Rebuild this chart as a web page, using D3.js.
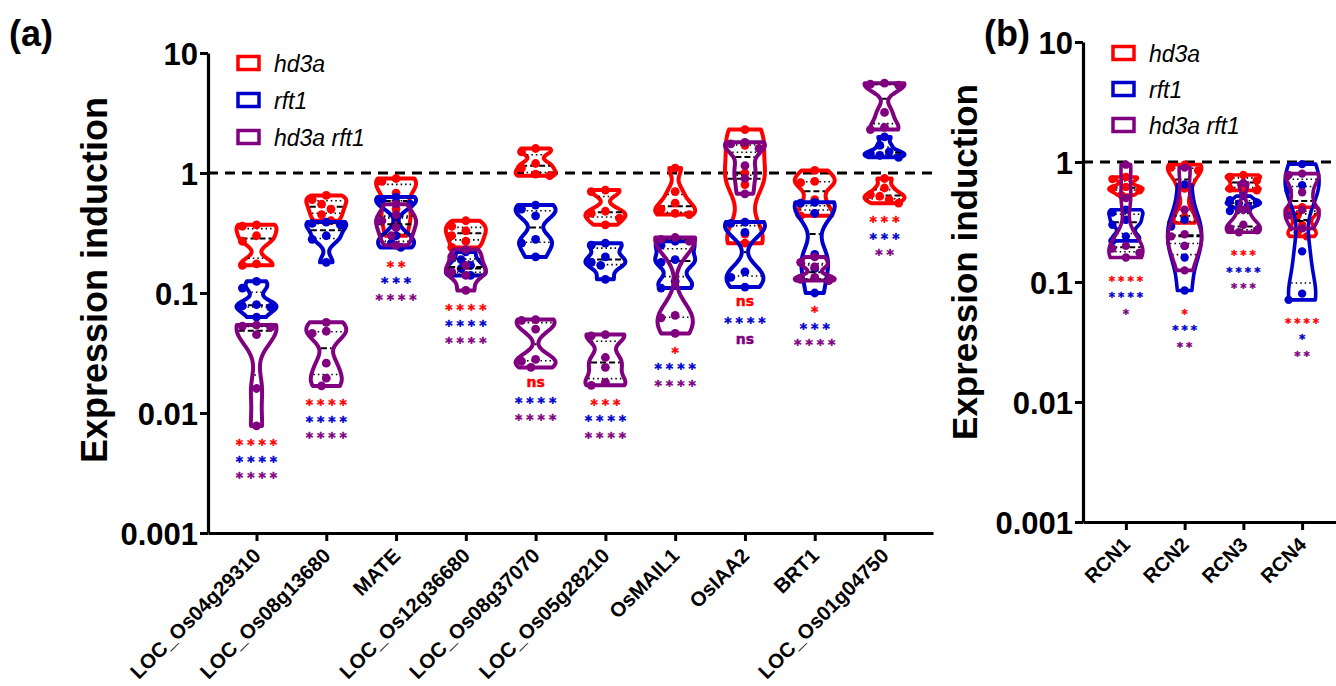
<!DOCTYPE html>
<html><head><meta charset="utf-8">
<script src="https://cdn.jsdelivr.net/npm/d3@7"></script>
<style>
body{margin:0;background:#fff;}
svg{font-family:"Liberation Sans", Arial, sans-serif;}
</style></head><body>
<svg id="c" width="1336" height="686"></svg>
<script>
// ---------- data ----------
const genesA = ["LOC_Os04g29310","LOC_Os08g13680","MATE","LOC_Os12g36680","LOC_Os08g37070","LOC_Os05g28210","OsMAIL1","OsIAA2","BRT1","LOC_Os01g04750"];
const genesB = ["RCN1","RCN2","RCN3","RCN4"];
const groupNames = ["hd3a","rft1","hd3a rft1"];
const groupColors = ["#ff0000","#0000cc","#800080"];
const yTicks = [0.001,0.01,0.1,1,10];
const yTickLabels = ["0.001","0.01","0.1","1","10"];

const hd3aA = [
  [0.37,0.36,0.30,0.27,0.175,0.17],
  [0.65,0.6,0.55,0.5,0.45,0.4],
  [0.9,0.85,0.68,0.5,0.4,0.3],
  [0.4,0.36,0.33,0.3,0.27,0.24],
  [1.6,1.5,1.2,1.1,0.98,0.95],
  [0.72,0.7,0.48,0.46,0.42,0.37],
  [1.1,0.7,0.56,0.5,0.46,0.45],
  [2.3,1.7,1.0,0.8,0.31,0.26],
  [1.05,0.85,0.83,0.6,0.46,0.44],
  [0.9,0.75,0.66,0.64,0.6,0.56]
];
const rft1A = [
  [0.125,0.11,0.08,0.078,0.076,0.063],
  [0.39,0.38,0.37,0.3,0.28,0.18],
  [0.63,0.6,0.55,0.3,0.26,0.24],
  [0.22,0.19,0.17,0.16,0.145,0.14],
  [0.54,0.5,0.44,0.28,0.26,0.2],
  [0.26,0.25,0.2,0.18,0.17,0.13],
  [0.27,0.25,0.19,0.18,0.125,0.11],
  [0.39,0.38,0.32,0.15,0.135,0.112],
  [0.57,0.56,0.46,0.21,0.16,0.1],
  [2.0,1.7,1.5,1.45,1.4,1.35]
];
const dblA = [
  [0.054,0.053,0.052,0.045,0.016,0.0078],
  [0.057,0.048,0.046,0.026,0.0195,0.0168],
  [0.55,0.45,0.4,0.35,0.3,0.25],
  [0.23,0.2,0.17,0.15,0.14,0.105],
  [0.06,0.059,0.05,0.028,0.027,0.024],
  [0.045,0.044,0.029,0.024,0.018,0.017],
  [0.29,0.28,0.27,0.065,0.062,0.046],
  [1.8,1.75,1.6,1.15,0.9,0.67],
  [0.2,0.18,0.165,0.135,0.13,0.127],
  [5.6,5.5,5.4,3.2,2.4,2.3]
];
const hd3aB = [
  [0.75,0.72,0.62,0.6,0.58,0.53],
  [0.95,0.9,0.85,0.6,0.35,0.31],
  [0.78,0.75,0.7,0.65,0.6,0.58],
  [0.42,0.4,0.36,0.3,0.26,0.24]
];
const rft1B = [
  [0.4,0.38,0.33,0.3,0.24,0.22],
  [0.65,0.33,0.29,0.2,0.16,0.085],
  [0.52,0.48,0.46,0.45,0.43,0.39],
  [0.96,0.64,0.58,0.18,0.08,0.071]
];
const dblB = [
  [0.95,0.5,0.2,0.19,0.175,0.16],
  [0.9,0.4,0.25,0.24,0.2,0.125],
  [0.67,0.4,0.3,0.28,0.27,0.26],
  [0.8,0.78,0.56,0.4,0.36,0.28]
];
const sigA = [
  ["****","****","****"],
  ["****","****","****"],
  ["**","***","****"],
  ["****","****","****"],
  ["ns","****","****"],
  ["***","****","****"],
  ["*","****","****"],
  ["ns","****","ns"],
  ["*","***","****"],
  ["***","***","**"]
];
const sigB = [
  ["****","****","*"],
  ["*","***","**"],
  ["***","****","***"],
  ["****","*","**"]
];

// ---------- drawing ----------
const svg = d3.select("#c");

function kdeShape(vals, halfW){
  const t = vals.map(v=>Math.log10(v)).sort((a,b)=>a-b);
  const lo = t[0], hi = t[t.length-1];
  const h = Math.max((hi-lo)*0.16, 0.012);
  const N = 60, pts = [];
  for(let j=0;j<=N;j++){
    const u = lo + (hi-lo)*j/N;
    let d = 0;
    t.forEach(ti=>{ const z=(u-ti)/h; d += Math.exp(-0.5*z*z); });
    pts.push({u, d});
  }
  const m = d3.max(pts, p=>p.d);
  pts.forEach(p=>p.w = p.d/m*halfW);
  const widthAt = u => {
    const f = (u-lo)/(hi-lo||1)*N;
    const i = Math.max(0, Math.min(N-1, Math.floor(f)));
    const r = f - i;
    return pts[i].w*(1-r) + pts[i+1].w*r;
  };
  return {pts, t, widthAt};
}

function drawPanel(cfg){
  const g = svg.append("g");
  const y = d3.scaleLog().domain([0.001,10]).range([cfg.yBot, cfg.yTop]);
  const x = d3.scalePoint().domain(cfg.genes).range([cfg.x0, cfg.x1]).padding(cfg.pad);

  const ya = g.append("g").attr("transform",`translate(${cfg.x0},0)`)
    .call(d3.axisLeft(y).tickValues(yTicks).tickFormat((d,i)=>yTickLabels[i]).tickSize(8).tickSizeOuter(0).tickPadding(2));
  ya.select(".domain").attr("stroke","#000").attr("stroke-width",3.2);
  ya.selectAll(".tick line").attr("stroke","#000").attr("stroke-width",3);
  ya.selectAll(".tick text").attr("font-size",31).attr("font-weight","bold").attr("fill","#000")
    .attr("font-family","'Liberation Sans', Arial, sans-serif").attr("dy","0.36em");

  const xa = g.append("g").attr("transform",`translate(0,${cfg.yBot})`)
    .call(d3.axisBottom(x).tickSize(8).tickSizeOuter(0));
  xa.select(".domain").attr("stroke","#000").attr("stroke-width",3.2);
  xa.selectAll(".tick line").attr("stroke","#000").attr("stroke-width",3);
  xa.selectAll(".tick text").attr("font-size",cfg.xFont).attr("font-weight","bold").attr("fill","#000")
    .attr("font-family","'Liberation Sans', Arial, sans-serif")
    .attr("text-anchor","end").attr("dy",null).attr("y",0)
    .attr("transform",`translate(${cfg.xlx},${cfg.xly}) rotate(-45)`);

  g.append("line").attr("x1",cfg.x0).attr("x2",cfg.x1).attr("y1",y(1)).attr("y2",y(1))
    .attr("stroke","#000").attr("stroke-width",3).attr("stroke-dasharray","10,7");

  const area = d3.area().curve(d3.curveBasis);
  cfg.genes.forEach((gene,i)=>{
    const cx = x(gene);
    cfg.data.forEach((ser,k)=>{
      const vals = ser[i];
      const sh = kdeShape(vals, cfg.halfW);
      const col = groupColors[k];
      const vg = g.append("g");
      area.y(p=>y(10**p.u)).x0(p=>cx-p.w).x1(p=>cx+p.w);
      vg.append("path").attr("d",area(sh.pts)).attr("fill","none")
        .attr("stroke",col).attr("stroke-width",cfg.vStroke).attr("stroke-linejoin","round");
      const med = d3.quantile(sh.t,0.5), q1 = d3.quantile(sh.t,0.25), q3 = d3.quantile(sh.t,0.75);
      [[med,"6,3",2],[q1,"1.5,3",1.6],[q3,"1.5,3",1.6]].forEach(([q,da,sw])=>{
        const w = sh.widthAt(q) - cfg.vStroke/2;
        vg.append("line").attr("x1",cx-w).attr("x2",cx+w).attr("y1",y(10**q)).attr("y2",y(10**q))
          .attr("stroke","#000").attr("stroke-width",sw).attr("stroke-dasharray",da);
      });
      const r = cfg.r, placed = [];
      vals.map(v=>y(v)).sort((a,b)=>a-b).forEach(py=>{
        const offs=[0,-1,1,-2,2,-3,3];
        let px = cx;
        for(const o of offs){
          const tx = cx + (o===0?0:Math.sign(o)*(r+0.3) + Math.sign(o)*(Math.abs(o)-1)*(2*r+0.6));
          if(placed.every(p=>Math.hypot(p[0]-tx,p[1]-py) >= 2*r)){ px = tx; break; }
        }
        placed.push([px,py]);
        vg.append("circle").attr("cx",px).attr("cy",py).attr("r",r).attr("fill",col);
      });
    });
    // significance labels
    const minV = d3.min(cfg.data, ser=>d3.min(ser[i]));
    const base = y(minV) + cfg.sigGap;
    cfg.sig[i].forEach((s,k)=>{
      const cy = base + k*cfg.sigStep;
      const ts = g.append("text").attr("text-anchor","middle").attr("font-weight","bold")
        .attr("font-family","'DejaVu Sans', sans-serif").attr("fill",groupColors[k])
        .attr("stroke",groupColors[k]).attr("stroke-linejoin","round").text(s);
      if(s==="ns"){
        const afterStars = k>0 && cfg.sig[i][k-1]!=="ns";
        ts.attr("x",cx).attr("y",cy+(afterStars?0.62:0.3)*cfg.nsFont).attr("font-size",cfg.nsFont)
          .attr("stroke-width",cfg.nsStroke);
      } else {
        ts.attr("x",cx+cfg.starLS/2).attr("y",cy+0.59*cfg.starFont).attr("font-size",cfg.starFont)
          .attr("letter-spacing",cfg.starLS).attr("stroke-width",cfg.starStroke);
      }
    });
  });

  groupNames.forEach((n,k)=>{
    const ly = cfg.legY + k*cfg.legStep;
    g.append("rect").attr("x",cfg.legX).attr("y",ly-6.5).attr("width",21).attr("height",13)
      .attr("fill","#fff").attr("stroke",groupColors[k]).attr("stroke-width",3.5);
    g.append("text").attr("x",cfg.legX+36).attr("y",ly+8.5).attr("font-size",23).attr("font-style","italic")
      .attr("fill","#000").text(n);
  });

  g.append("text").attr("transform",`translate(${cfg.ylx},${cfg.yly}) rotate(-90)`)
    .attr("text-anchor","middle").attr("font-size",cfg.ylFont).attr("font-weight","bold").attr("fill","#000")
    .text("Expression induction");
  g.append("text").attr("x",cfg.plx).attr("y",cfg.ply).attr("font-size",36).attr("font-weight","bold")
    .attr("fill","#000").text(cfg.letter);
}

drawPanel({genes:genesA, data:[hd3aA,rft1A,dblA], sig:sigA, x0:208, x1:933, pad:0.695,
  yTop:53, yBot:533, halfW:20, vStroke:4, r:4.4, xFont:20.5, xlx:5, xly:24,
  sigGap:15, sigStep:16.5, starFont:14, starLS:4, starStroke:0.5, nsFont:14, nsStroke:0.5,
  legX:238, legY:63, legStep:37, ylx:107, yly:280, ylFont:36, plx:9, ply:46, letter:"(a)"});

drawPanel({genes:genesB, data:[hd3aB,rft1B,dblB], sig:sigB, x0:1083, x1:1345, pad:0.73,
  yTop:42, yBot:522, halfW:17, vStroke:3.6, r:4.2, xFont:20, xlx:5, xly:24,
  sigGap:20, sigStep:16.5, starFont:12, starLS:3, starStroke:0.4, nsFont:12, nsStroke:0.4,
  legX:1113, legY:53, legStep:36, ylx:977, yly:262, ylFont:35, plx:984, ply:46, letter:"(b)"});
</script>
</body></html>
